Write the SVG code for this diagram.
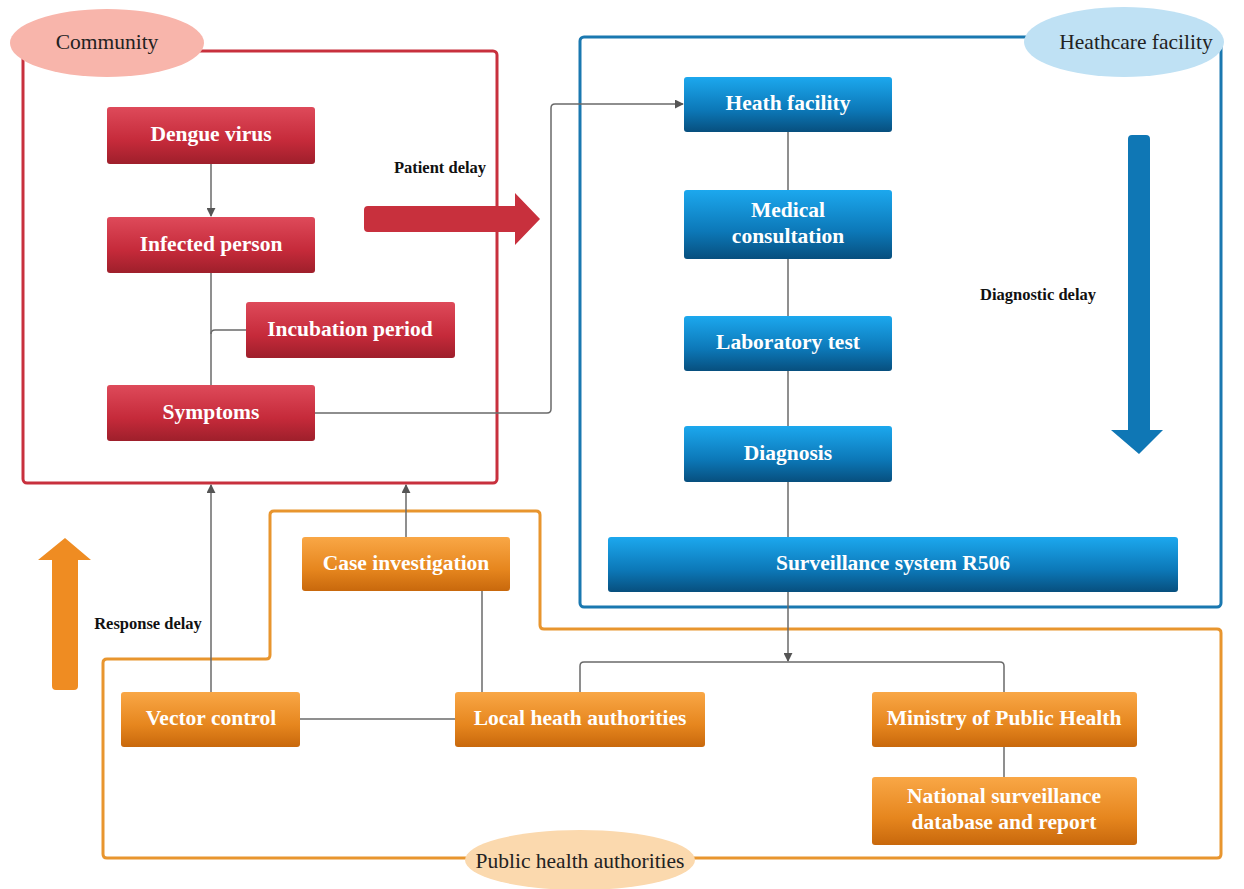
<svg xmlns="http://www.w3.org/2000/svg" width="1244" height="889" viewBox="0 0 1244 889">
<defs>
<linearGradient id="gRed" x1="0" y1="0" x2="0" y2="1"><stop offset="0" stop-color="#de4a5a"/><stop offset="0.6" stop-color="#c52a3a"/><stop offset="1" stop-color="#9e1f2b"/></linearGradient>
<linearGradient id="gBlue" x1="0" y1="0" x2="0" y2="1"><stop offset="0" stop-color="#1ca8ee"/><stop offset="0.6" stop-color="#0c78b8"/><stop offset="1" stop-color="#074f7e"/></linearGradient>
<linearGradient id="gOrange" x1="0" y1="0" x2="0" y2="1"><stop offset="0" stop-color="#f9a746"/><stop offset="0.6" stop-color="#e6861e"/><stop offset="1" stop-color="#c8680c"/></linearGradient>
<marker id="arr" viewBox="0 0 10 10" refX="9" refY="5" markerWidth="9" markerHeight="9" orient="auto" markerUnits="userSpaceOnUse"><path d="M0,0 L10,5 L0,10 z" fill="#555"/></marker>
</defs>
<style>
.lbl{font-family:"Liberation Serif","Times New Roman",serif;font-weight:bold;font-size:21.5px;fill:#fff;text-anchor:middle;dominant-baseline:central}
.grp{font-family:"Liberation Serif","Times New Roman",serif;font-size:21.5px;fill:#222;text-anchor:middle;dominant-baseline:central}
.dly{font-family:"Liberation Serif","Times New Roman",serif;font-weight:bold;font-size:16.5px;fill:#111;text-anchor:middle;dominant-baseline:central}
.con{fill:none;stroke:#6a6a6a;stroke-width:1.5}
.red{fill:url(#gRed)}
.blue{fill:url(#gBlue)}
.orange{fill:url(#gOrange)}
</style>
<rect width="1244" height="889" fill="#fff"/>

<!-- frames -->
<g id="community-frame">
<rect x="23" y="51" width="474" height="432" rx="4" fill="none" stroke="#c8303d" stroke-width="3"/>
<ellipse cx="107" cy="43" rx="97" ry="34" fill="#f8b5ab"/>
<text class="grp" x="107" y="42">Community</text>
</g>
<g id="healthcare-frame">
<rect x="580" y="37" width="641" height="570" rx="4" fill="none" stroke="#1a78b0" stroke-width="3"/>
<ellipse cx="1124" cy="42" rx="100" ry="35" fill="#bfe1f4"/>
<text class="grp" x="1136" y="42">Heathcare facility</text>
</g>
<g id="public-frame">
<path d="M274,511 L536,511 Q540,511 540,515 L540,625 Q540,629 544,629 L1217,629 Q1221,629 1221,633 L1221,854 Q1221,858 1217,858 L107,858 Q103,858 103,854 L103,663 Q103,659 107,659 L266,659 Q270,659 270,655 L270,515 Q270,511 274,511 Z" fill="none" stroke="#e8952e" stroke-width="3"/>
<ellipse cx="580" cy="860" rx="115" ry="30" fill="#fbd9ae"/>
<text class="grp" x="580" y="861">Public health authorities</text>
</g>

<!-- connectors -->
<g id="connectors">
<path class="con" d="M211,164 L211,216" marker-end="url(#arr)"/>
<path class="con" d="M211,273 L211,385"/>
<path class="con" d="M246,330 L215,330 Q211,330 211,334"/>
<path class="con" d="M315,413 L547,413 Q551,413 551,409 L551,108 Q551,104 555,104 L683,104" marker-end="url(#arr)"/>
<path class="con" d="M788,132 L788,537"/>
<path class="con" d="M788,592 L788,661" marker-end="url(#arr)"/>
<path class="con" d="M580,692 L580,666 Q580,662 584,662 L1000,662 Q1004,662 1004,666 L1004,692"/>
<path class="con" d="M1004,747 L1004,777"/>
<path class="con" d="M211,692 L211,485" marker-end="url(#arr)"/>
<path class="con" d="M406,537 L406,485" marker-end="url(#arr)"/>
<path class="con" d="M482,692 L482,591"/>
<path class="con" d="M300,719 L455,719"/>
</g>

<!-- delay arrows -->
<g id="patient-delay">
<path d="M368,206 L515,206 L515,193 L540,219 L515,245 L515,232 L368,232 Q364,232 364,228 L364,210 Q364,206 368,206 Z" fill="#c8303d"/>
<text class="dly" x="440" y="167">Patient delay</text>
</g>
<g id="diagnostic-delay">
<path d="M1128,139 Q1128,135 1132,135 L1146,135 Q1150,135 1150,139 L1150,430 L1163,430 L1139,454 L1111,430 L1128,430 Z" fill="#0f77b5"/>
<text class="dly" x="1038" y="294">Diagnostic delay</text>
</g>
<g id="response-delay">
<path d="M52,686 L52,560 L38,560 L65,538 L91,560 L78,560 L78,686 Q78,690 74,690 L56,690 Q52,690 52,686 Z" fill="#ef8c22"/>
<text class="dly" x="148" y="623">Response delay</text>
</g>

<!-- nodes -->
<g id="dengue-virus"><rect class="red" x="107" y="107" width="208" height="57" rx="3"/><text class="lbl" x="211" y="134">Dengue virus</text></g>
<g id="infected-person"><rect class="red" x="107" y="217" width="208" height="56" rx="3"/><text class="lbl" x="211" y="244">Infected person</text></g>
<g id="incubation-period"><rect class="red" x="246" y="302" width="209" height="56" rx="3"/><text class="lbl" x="350" y="329">Incubation period</text></g>
<g id="symptoms"><rect class="red" x="107" y="385" width="208" height="56" rx="3"/><text class="lbl" x="211" y="412">Symptoms</text></g>

<g id="heath-facility"><rect class="blue" x="684" y="77" width="208" height="55" rx="3"/><text class="lbl" x="788" y="103">Heath facility</text></g>
<g id="medical-consultation"><rect class="blue" x="684" y="190" width="208" height="69" rx="3"/><text class="lbl" x="788" y="210">Medical</text><text class="lbl" x="788" y="236">consultation</text></g>
<g id="laboratory-test"><rect class="blue" x="684" y="316" width="208" height="55" rx="3"/><text class="lbl" x="788" y="342">Laboratory test</text></g>
<g id="diagnosis"><rect class="blue" x="684" y="426" width="208" height="56" rx="3"/><text class="lbl" x="788" y="453">Diagnosis</text></g>
<g id="surveillance-system"><rect class="blue" x="608" y="537" width="570" height="55" rx="3"/><text class="lbl" x="893" y="563">Surveillance system R506</text></g>

<g id="case-investigation"><rect class="orange" x="302" y="537" width="208" height="54" rx="3"/><text class="lbl" x="406" y="563">Case investigation</text></g>
<g id="vector-control"><rect class="orange" x="121" y="692" width="179" height="55" rx="3"/><text class="lbl" x="211" y="718">Vector control</text></g>
<g id="local-heath-authorities"><rect class="orange" x="455" y="692" width="250" height="55" rx="3"/><text class="lbl" x="580" y="718">Local heath authorities</text></g>
<g id="ministry-public-health"><rect class="orange" x="872" y="692" width="265" height="55" rx="3"/><text class="lbl" x="1004" y="718">Ministry of Public Health</text></g>
<g id="national-surveillance"><rect class="orange" x="872" y="777" width="265" height="68" rx="3"/><text class="lbl" x="1004" y="796">National surveillance</text><text class="lbl" x="1004" y="822">database and report</text></g>
</svg>
